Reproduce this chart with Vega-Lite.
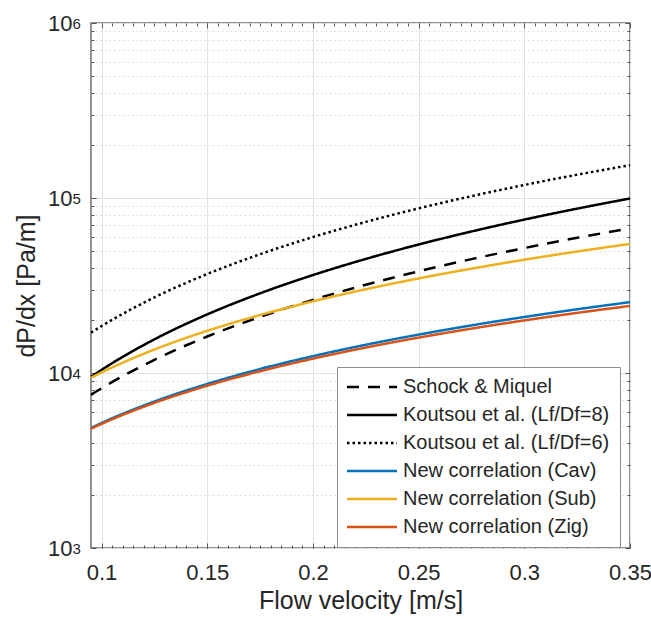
{
  "$schema": "https://vega.github.io/schema/vega-lite/v6.json",
  "autosize": {"type": "none"},
  "width": 539,
  "height": 525,
  "padding": {"left": 91, "top": 23, "right": 21, "bottom": 73},
  "background": "white",
  "config": {
    "font": "Liberation Sans",
    "view": {"stroke": "#6e6e6e", "strokeWidth": 1.5},
    "axis": {
      "labelFont": "Liberation Sans",
      "titleFont": "Liberation Sans",
      "domain": false,
      "labelFlush": false,
      "labelOverlap": false,
      "labelBound": false,
      "tickColor": "#555555",
      "tickWidth": 1,
      "labelColor": "#262626",
      "titleColor": "#262626",
      "titleFontWeight": "normal",
      "gridColor": "#e2e2e2",
      "gridWidth": 1
    }
  },
  "data": {"values": [
    {"s": "Schock & Miquel", "v": 0.095, "dp": 7500}, {"s": "Schock & Miquel", "v": 0.1, "dp": 8175}, {"s": "Schock & Miquel", "v": 0.125, "dp": 11890}, {"s": "Schock & Miquel", "v": 0.15, "dp": 16160}, {"s": "Schock & Miquel", "v": 0.175, "dp": 20930}, {"s": "Schock & Miquel", "v": 0.2, "dp": 26190}, {"s": "Schock & Miquel", "v": 0.225, "dp": 31930}, {"s": "Schock & Miquel", "v": 0.25, "dp": 38110}, {"s": "Schock & Miquel", "v": 0.275, "dp": 44730}, {"s": "Schock & Miquel", "v": 0.3, "dp": 51760}, {"s": "Schock & Miquel", "v": 0.325, "dp": 59220}, {"s": "Schock & Miquel", "v": 0.35, "dp": 67070},
    {"s": "Koutsou et al. (Lf/Df=8)", "v": 0.095, "dp": 9500}, {"s": "Koutsou et al. (Lf/Df=8)", "v": 0.1, "dp": 10420}, {"s": "Koutsou et al. (Lf/Df=8)", "v": 0.125, "dp": 15570}, {"s": "Koutsou et al. (Lf/Df=8)", "v": 0.15, "dp": 21620}, {"s": "Koutsou et al. (Lf/Df=8)", "v": 0.175, "dp": 28530}, {"s": "Koutsou et al. (Lf/Df=8)", "v": 0.2, "dp": 36280}, {"s": "Koutsou et al. (Lf/Df=8)", "v": 0.225, "dp": 44850}, {"s": "Koutsou et al. (Lf/Df=8)", "v": 0.25, "dp": 54220}, {"s": "Koutsou et al. (Lf/Df=8)", "v": 0.275, "dp": 64370}, {"s": "Koutsou et al. (Lf/Df=8)", "v": 0.3, "dp": 75270}, {"s": "Koutsou et al. (Lf/Df=8)", "v": 0.325, "dp": 86940}, {"s": "Koutsou et al. (Lf/Df=8)", "v": 0.35, "dp": 99360},
    {"s": "Koutsou et al. (Lf/Df=6)", "v": 0.095, "dp": 17000}, {"s": "Koutsou et al. (Lf/Df=6)", "v": 0.1, "dp": 18540}, {"s": "Koutsou et al. (Lf/Df=6)", "v": 0.125, "dp": 27030}, {"s": "Koutsou et al. (Lf/Df=6)", "v": 0.15, "dp": 36790}, {"s": "Koutsou et al. (Lf/Df=6)", "v": 0.175, "dp": 47730}, {"s": "Koutsou et al. (Lf/Df=6)", "v": 0.2, "dp": 59810}, {"s": "Koutsou et al. (Lf/Df=6)", "v": 0.225, "dp": 73000}, {"s": "Koutsou et al. (Lf/Df=6)", "v": 0.25, "dp": 87230}, {"s": "Koutsou et al. (Lf/Df=6)", "v": 0.275, "dp": 102460}, {"s": "Koutsou et al. (Lf/Df=6)", "v": 0.3, "dp": 118700}, {"s": "Koutsou et al. (Lf/Df=6)", "v": 0.325, "dp": 135900}, {"s": "Koutsou et al. (Lf/Df=6)", "v": 0.35, "dp": 154000},
    {"s": "New correlation (Cav)", "v": 0.095, "dp": 4850}, {"s": "New correlation (Cav)", "v": 0.1, "dp": 5180}, {"s": "New correlation (Cav)", "v": 0.125, "dp": 6870}, {"s": "New correlation (Cav)", "v": 0.15, "dp": 8660}, {"s": "New correlation (Cav)", "v": 0.175, "dp": 10540}, {"s": "New correlation (Cav)", "v": 0.2, "dp": 12480}, {"s": "New correlation (Cav)", "v": 0.225, "dp": 14500}, {"s": "New correlation (Cav)", "v": 0.25, "dp": 16570}, {"s": "New correlation (Cav)", "v": 0.275, "dp": 18710}, {"s": "New correlation (Cav)", "v": 0.3, "dp": 20890}, {"s": "New correlation (Cav)", "v": 0.325, "dp": 23130}, {"s": "New correlation (Cav)", "v": 0.35, "dp": 25410},
    {"s": "New correlation (Sub)", "v": 0.095, "dp": 9400}, {"s": "New correlation (Sub)", "v": 0.1, "dp": 10070}, {"s": "New correlation (Sub)", "v": 0.125, "dp": 13620}, {"s": "New correlation (Sub)", "v": 0.15, "dp": 17420}, {"s": "New correlation (Sub)", "v": 0.175, "dp": 21440}, {"s": "New correlation (Sub)", "v": 0.2, "dp": 25680}, {"s": "New correlation (Sub)", "v": 0.225, "dp": 30110}, {"s": "New correlation (Sub)", "v": 0.25, "dp": 34710}, {"s": "New correlation (Sub)", "v": 0.275, "dp": 39470}, {"s": "New correlation (Sub)", "v": 0.3, "dp": 44400}, {"s": "New correlation (Sub)", "v": 0.325, "dp": 49460}, {"s": "New correlation (Sub)", "v": 0.35, "dp": 54660},
    {"s": "New correlation (Zig)", "v": 0.095, "dp": 4800}, {"s": "New correlation (Zig)", "v": 0.1, "dp": 5120}, {"s": "New correlation (Zig)", "v": 0.125, "dp": 6750}, {"s": "New correlation (Zig)", "v": 0.15, "dp": 8460}, {"s": "New correlation (Zig)", "v": 0.175, "dp": 10240}, {"s": "New correlation (Zig)", "v": 0.2, "dp": 12080}, {"s": "New correlation (Zig)", "v": 0.225, "dp": 13980}, {"s": "New correlation (Zig)", "v": 0.25, "dp": 15930}, {"s": "New correlation (Zig)", "v": 0.275, "dp": 17930}, {"s": "New correlation (Zig)", "v": 0.3, "dp": 19980}, {"s": "New correlation (Zig)", "v": 0.325, "dp": 22060}, {"s": "New correlation (Zig)", "v": 0.35, "dp": 24180}
  ]},
  "resolve": {"axis": {"x": "independent", "y": "independent"}},
  "layer": [
    {
      "mark": {"type": "point", "opacity": 0},
      "encoding": {
        "x": {"field": "v", "type": "quantitative", "scale": {"domain": [0.095, 0.35], "nice": false, "zero": false},
          "axis": {"orient": "bottom", "values": [0.1, 0.15, 0.2, 0.25, 0.3, 0.35], "format": "~g", "grid": true, "ticks": false, "labelFontSize": 22, "labelPadding": 14, "title": "Flow velocity [m/s]", "titleFontSize": 25, "titlePadding": 5}},
        "y": {"field": "dp", "type": "quantitative", "scale": {"type": "log", "domain": [1000, 1000000], "nice": false},
          "axis": {"orient": "left", "values": [1000, 10000, 100000, 1000000], "grid": true, "ticks": false, "labelExpr": "'10'", "labelFontSize": 22, "labelPadding": 19, "labelDy": 5, "title": "dP/dx [Pa/m]", "titleFontSize": 25, "titlePadding": 8}}
      }
    },
    {
      "mark": {"type": "point", "opacity": 0},
      "encoding": {
        "x": {"field": "v", "type": "quantitative", "scale": {"domain": [0.095, 0.35], "nice": false, "zero": false},
          "axis": {"orient": "bottom", "values": [0.1, 0.15, 0.2, 0.25, 0.3, 0.35], "grid": false, "labels": false, "ticks": true, "tickSize": -5, "title": null}},
        "y": {"field": "dp", "type": "quantitative", "scale": {"type": "log", "domain": [1000, 1000000], "nice": false},
          "axis": {"orient": "left", "values": [1000, 10000, 100000, 1000000], "grid": false, "ticks": false, "labelExpr": "datum.value == 1000 ? '3' : datum.value == 10000 ? '4' : datum.value == 100000 ? '5' : '6'", "labelAlign": "left", "labelFontSize": 15, "labelPadding": 19, "labelDy": -3, "title": null}}
      }
    },
    {
      "mark": {"type": "point", "opacity": 0},
      "encoding": {
        "x": {"field": "v", "type": "quantitative", "scale": {"domain": [0.095, 0.35], "nice": false, "zero": false},
          "axis": {"orient": "bottom", "values": [0.1, 0.105, 0.11, 0.115, 0.12, 0.125, 0.13, 0.135, 0.14, 0.145, 0.15, 0.155, 0.16, 0.165, 0.17, 0.175, 0.18, 0.185, 0.19, 0.195, 0.2, 0.205, 0.21, 0.215, 0.22, 0.225, 0.23, 0.235, 0.24, 0.245, 0.25, 0.255, 0.26, 0.265, 0.27, 0.275, 0.28, 0.285, 0.29, 0.295, 0.3, 0.305, 0.31, 0.315, 0.32, 0.325, 0.33, 0.335, 0.34, 0.345], "grid": false, "labels": false, "ticks": true, "tickSize": -3, "title": null}},
        "y": {"field": "dp", "type": "quantitative", "scale": {"type": "log", "domain": [1000, 1000000], "nice": false},
          "axis": {"orient": "left", "values": [1000, 10000, 100000, 1000000], "grid": false, "labels": false, "ticks": true, "tickSize": -5, "title": null}}
      }
    },
    {
      "mark": {"type": "point", "opacity": 0},
      "encoding": {
        "x": {"field": "v", "type": "quantitative", "scale": {"domain": [0.095, 0.35], "nice": false, "zero": false},
          "axis": {"orient": "top", "values": [0.1, 0.15, 0.2, 0.25, 0.3, 0.35], "grid": false, "labels": false, "ticks": true, "tickSize": -5, "title": null}},
        "y": {"field": "dp", "type": "quantitative", "scale": {"type": "log", "domain": [1000, 1000000], "nice": false},
          "axis": {"orient": "left", "values": [2000, 3000, 4000, 5000, 6000, 7000, 8000, 9000, 20000, 30000, 40000, 50000, 60000, 70000, 80000, 90000, 200000, 300000, 400000, 500000, 600000, 700000, 800000, 900000], "grid": true, "gridDash": [1.5, 3], "gridColor": "#d9d9d9", "labels": false, "ticks": true, "tickSize": -3, "title": null}}
      }
    },
    {
      "mark": {"type": "point", "opacity": 0},
      "encoding": {
        "x": {"field": "v", "type": "quantitative", "scale": {"domain": [0.095, 0.35], "nice": false, "zero": false},
          "axis": {"orient": "top", "values": [0.1, 0.105, 0.11, 0.115, 0.12, 0.125, 0.13, 0.135, 0.14, 0.145, 0.15, 0.155, 0.16, 0.165, 0.17, 0.175, 0.18, 0.185, 0.19, 0.195, 0.2, 0.205, 0.21, 0.215, 0.22, 0.225, 0.23, 0.235, 0.24, 0.245, 0.25, 0.255, 0.26, 0.265, 0.27, 0.275, 0.28, 0.285, 0.29, 0.295, 0.3, 0.305, 0.31, 0.315, 0.32, 0.325, 0.33, 0.335, 0.34, 0.345], "grid": false, "labels": false, "ticks": true, "tickSize": -3, "title": null}},
        "y": {"field": "dp", "type": "quantitative", "scale": {"type": "log", "domain": [1000, 1000000], "nice": false},
          "axis": {"orient": "right", "values": [1000, 10000, 100000, 1000000], "grid": false, "labels": false, "ticks": true, "tickSize": -5, "title": null}}
      }
    },
    {
      "mark": {"type": "line", "strokeWidth": 2.5, "interpolate": "monotone", "strokeCap": "butt"},
      "encoding": {
        "x": {"field": "v", "type": "quantitative", "scale": {"domain": [0.095, 0.35], "nice": false, "zero": false}, "axis": null},
        "y": {"field": "dp", "type": "quantitative", "scale": {"type": "log", "domain": [1000, 1000000], "nice": false},
          "axis": {"orient": "right", "values": [2000, 3000, 4000, 5000, 6000, 7000, 8000, 9000, 20000, 30000, 40000, 50000, 60000, 70000, 80000, 90000, 200000, 300000, 400000, 500000, 600000, 700000, 800000, 900000], "grid": false, "labels": false, "ticks": true, "tickSize": -3, "title": null}},
        "color": {"field": "s", "type": "nominal",
          "scale": {"domain": ["Schock & Miquel", "Koutsou et al. (Lf/Df=8)", "Koutsou et al. (Lf/Df=6)", "New correlation (Cav)", "New correlation (Sub)", "New correlation (Zig)"], "range": ["#000000", "#000000", "#000000", "#0072BD", "#EDB120", "#D95319"]},
          "legend": {"orient": "none", "legendX": 246, "legendY": 344, "title": null, "padding": 10, "strokeColor": "#8c8c8c", "fillColor": "white", "labelFontSize": 20, "labelFont": "Liberation Sans", "labelColor": "#262626", "rowPadding": 8, "symbolType": "M-2,0H8", "symbolSize": 100, "symbolStrokeWidth": 2.5, "labelOffset": 36, "labelLimit": 400}},
        "strokeDash": {"field": "s", "type": "nominal",
          "scale": {"domain": ["Schock & Miquel", "Koutsou et al. (Lf/Df=8)", "Koutsou et al. (Lf/Df=6)", "New correlation (Cav)", "New correlation (Sub)", "New correlation (Zig)"], "range": [[12, 9], [1, 0], [2.5, 3], [1, 0], [1, 0], [1, 0]]},
          "legend": {"orient": "none", "legendX": 246, "legendY": 344, "title": null, "padding": 10, "strokeColor": "#8c8c8c", "fillColor": "white", "labelFontSize": 20, "labelFont": "Liberation Sans", "labelColor": "#262626", "rowPadding": 8, "symbolType": "M-2,0H8", "symbolSize": 100, "symbolStrokeWidth": 2.5, "labelOffset": 36, "labelLimit": 400}}
      }
    }
  ]
}
